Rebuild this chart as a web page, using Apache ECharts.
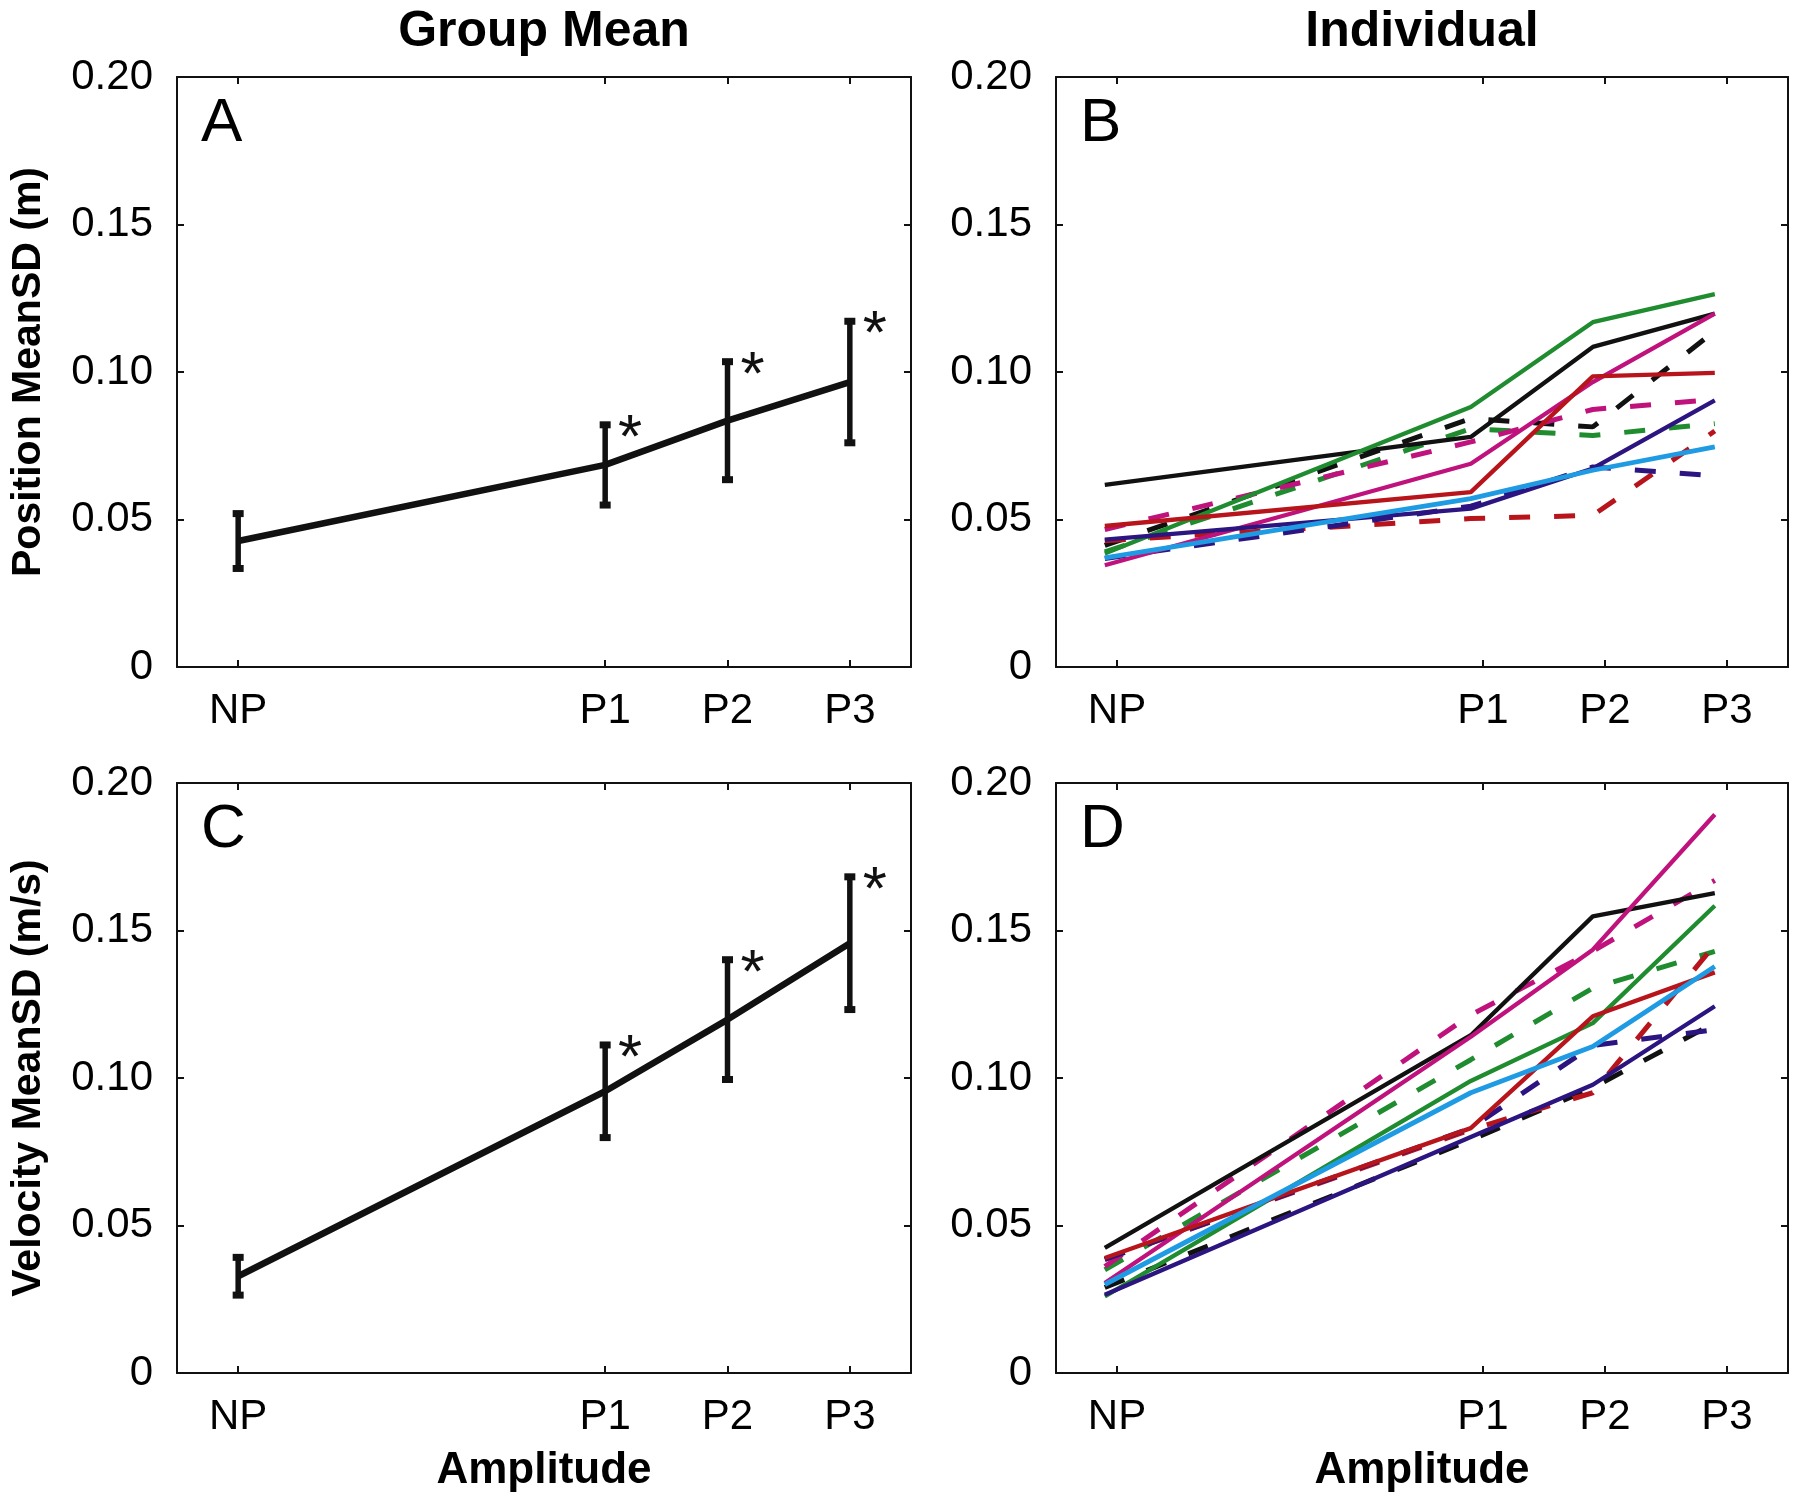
<!DOCTYPE html>
<html>
<head>
<meta charset="utf-8">
<script src="https://cdn.jsdelivr.net/npm/echarts@6/dist/echarts.min.js"></script>
<style>
  html, body { margin: 0; padding: 0; background: #fff; }
  #chart { width: 1800px; height: 1504px; }
</style>
</head>
<body>
<div id="chart"></div>
<script>
// amplitude conditions and where they sit on the x scale
const amplitudes = ['NP', 'P1', 'P2', 'P3']
const ampPos = [0, 3, 4, 5]
// individual traces are drawn slightly left of the ticks in the original
const indivPos = [-0.1, 2.9, 3.9, 4.9]

// group mean +/- SD
const posMean = [0.0427, 0.0685, 0.0835, 0.0966]
const posSD = [0.0093, 0.0136, 0.0200, 0.0206]
const velMean = [0.0328, 0.0955, 0.1198, 0.1457]
const velSD = [0.0064, 0.0157, 0.0203, 0.0225]
const sigFlag = [0, 1, 1, 1]

// individual subjects, position MeanSD (m)
const posBlack = [0.0617, 0.0780, 0.1085, 0.1198]
const posGreen = [0.0385, 0.0881, 0.1169, 0.1264]
const posMagenta = [0.0345, 0.0689, 0.0966, 0.1198]
const posRed = [0.0478, 0.0593, 0.0985, 0.0997]
const posNavy = [0.0432, 0.0537, 0.0673, 0.0904]
const posBlue = [0.0370, 0.0571, 0.0667, 0.0746]
const posBlackDash = [0.0412, 0.0842, 0.0814, 0.1139]
const posGreenDash = [0.0390, 0.0808, 0.0785, 0.0825]
const posMagentaDash = [0.0466, 0.0763, 0.0873, 0.0907]
const posRedDash = [0.0428, 0.0503, 0.0514, 0.0800]
const posNavyDash = [0.0368, 0.0545, 0.0678, 0.0648]

// individual subjects, velocity MeanSD (m/s)
const velBlack = [0.0424, 0.1145, 0.1548, 0.1627]
const velGreen = [0.0260, 0.0990, 0.1186, 0.1584]
const velMagenta = [0.0305, 0.1140, 0.1435, 0.1893]
const velRed = [0.0390, 0.0830, 0.1209, 0.1358]
const velNavy = [0.0265, 0.0800, 0.0977, 0.1243]
const velBlue = [0.0300, 0.0950, 0.1107, 0.1378]
const velBlackDash = [0.0290, 0.0790, 0.0967, 0.1187]
const velGreenDash = [0.0350, 0.1062, 0.1305, 0.1429]
const velMagentaDash = [0.0361, 0.1214, 0.1430, 0.1670]
const velRedDash = [0.0385, 0.0825, 0.0950, 0.1452]
const velNavyDash = [0.0385, 0.0830, 0.1110, 0.1164]

const colors = {
  black: '#111111',
  green: '#1f8c2f',
  magenta: '#c0127c',
  red: '#b8141c',
  navy: '#2c1580',
  blue: '#1e9be3'
}

const fontFamily = '"Liberation Sans", Arial, Helvetica, sans-serif'

const grids = [
  { left: 177, top: 77, width: 734, height: 590 },
  { left: 1056, top: 77, width: 732, height: 590 },
  { left: 177, top: 783, width: 734, height: 590 },
  { left: 1056, top: 783, width: 732, height: 590 }
]

const axisLineStyle = { color: '#111', width: 2 }
const xAxes = []
const yAxes = []
grids.forEach((g, i) => {
  const bottomRow = i >= 2
  xAxes.push({
    gridIndex: i,
    type: 'value',
    position: 'bottom',
    min: -0.5,
    max: 5.5,
    axisLine: { onZero: false, lineStyle: axisLineStyle },
    axisTick: { inside: true, length: 7, customValues: ampPos, lineStyle: axisLineStyle },
    axisLabel: {
      customValues: ampPos,
      formatter: v => amplitudes[ampPos.indexOf(v)],
      fontSize: 42,
      color: '#000',
      fontFamily,
      margin: 23
    },
    splitLine: { show: false },
    name: bottomRow ? 'Amplitude' : '',
    nameLocation: 'middle',
    nameGap: 76,
    nameTextStyle: { fontSize: 44, fontWeight: 'bold', color: '#000', fontFamily }
  })
  xAxes.push({
    gridIndex: i,
    type: 'value',
    position: 'top',
    min: -0.5,
    max: 5.5,
    axisLine: { onZero: false, lineStyle: axisLineStyle },
    axisTick: { inside: true, length: 7, customValues: ampPos, lineStyle: axisLineStyle },
    axisLabel: { show: false },
    splitLine: { show: false }
  })
  yAxes.push({
    gridIndex: i,
    type: 'value',
    position: 'left',
    min: 0,
    max: 0.2,
    interval: 0.05,
    axisLine: { show: true, onZero: false, lineStyle: axisLineStyle },
    axisTick: { show: true, inside: true, length: 7, lineStyle: axisLineStyle },
    axisLabel: {
      formatter: v => (v === 0 ? '0' : v.toFixed(2)),
      fontSize: 42,
      color: '#000',
      fontFamily,
      margin: 24
    },
    splitLine: { show: false },
    name: i === 0 ? 'Position MeanSD (m)' : (i === 2 ? 'Velocity MeanSD (m/s)' : ''),
    nameLocation: 'middle',
    nameGap: 128,
    nameTextStyle: { fontSize: 41, fontWeight: 'bold', color: '#000', fontFamily }
  })
  yAxes.push({
    gridIndex: i,
    type: 'value',
    position: 'right',
    min: 0,
    max: 0.2,
    interval: 0.05,
    axisLine: { show: true, onZero: false, lineStyle: axisLineStyle },
    axisTick: { show: true, inside: true, length: 7, lineStyle: axisLineStyle },
    axisLabel: { show: false },
    splitLine: { show: false }
  })
})

function renderErrorBar (params, api) {
  const x = api.value(0)
  const mean = api.value(1)
  const sd = api.value(2)
  const hi = api.coord([x, mean + sd])
  const lo = api.coord([x, mean - sd])
  const capW = 11
  const capH = 7
  const children = [
    { type: 'line', shape: { x1: hi[0], y1: hi[1], x2: lo[0], y2: lo[1] }, style: { stroke: '#111', lineWidth: 5.5 } },
    { type: 'rect', shape: { x: hi[0] - capW / 2, y: hi[1] - capH / 2, width: capW, height: capH }, style: { fill: '#111' } },
    { type: 'rect', shape: { x: lo[0] - capW / 2, y: lo[1] - capH / 2, width: capW, height: capH }, style: { fill: '#111' } }
  ]
  if (api.value(3)) {
    children.push({
      type: 'text',
      x: hi[0] + 25,
      y: hi[1] + 15,
      style: { text: '*', fontSize: 62, fontFamily, fill: '#111', align: 'center', verticalAlign: 'middle' }
    })
  }
  return { type: 'group', children }
}

function meanSeries (gridIdx, mean, sd) {
  return [
    {
      type: 'line',
      xAxisIndex: gridIdx * 2,
      yAxisIndex: gridIdx * 2,
      data: ampPos.map((x, k) => [x, mean[k]]),
      symbol: 'none',
      lineStyle: { color: '#111', width: 6.5 },
      z: 3
    },
    {
      type: 'custom',
      xAxisIndex: gridIdx * 2,
      yAxisIndex: gridIdx * 2,
      renderItem: renderErrorBar,
      data: ampPos.map((x, k) => [x, mean[k], sd[k], sigFlag[k]]),
      clip: false,
      z: 4
    }
  ]
}

function indivSeries (gridIdx, values, color, dashed) {
  return {
    type: 'line',
    xAxisIndex: gridIdx * 2,
    yAxisIndex: gridIdx * 2,
    data: indivPos.map((x, k) => [x, values[k]]),
    symbol: 'none',
    lineStyle: {
      color,
      width: dashed ? 5 : (color === colors.blue ? 4.8 : 4.3),
      type: dashed ? [21, 24] : 'solid'
    }
  }
}

const series = [
  ...meanSeries(0, posMean, posSD),
  ...meanSeries(2, velMean, velSD),
  indivSeries(1, posBlackDash, colors.black, true),
  indivSeries(1, posGreenDash, colors.green, true),
  indivSeries(1, posMagentaDash, colors.magenta, true),
  indivSeries(1, posRedDash, colors.red, true),
  indivSeries(1, posNavyDash, colors.navy, true),
  indivSeries(1, posBlack, colors.black, false),
  indivSeries(1, posGreen, colors.green, false),
  indivSeries(1, posMagenta, colors.magenta, false),
  indivSeries(1, posRed, colors.red, false),
  indivSeries(1, posNavy, colors.navy, false),
  indivSeries(1, posBlue, colors.blue, false),
  indivSeries(3, velBlackDash, colors.black, true),
  indivSeries(3, velGreenDash, colors.green, true),
  indivSeries(3, velMagentaDash, colors.magenta, true),
  indivSeries(3, velRedDash, colors.red, true),
  indivSeries(3, velNavyDash, colors.navy, true),
  indivSeries(3, velBlack, colors.black, false),
  indivSeries(3, velGreen, colors.green, false),
  indivSeries(3, velMagenta, colors.magenta, false),
  indivSeries(3, velRed, colors.red, false),
  indivSeries(3, velNavy, colors.navy, false),
  indivSeries(3, velBlue, colors.blue, false)
]

const panelLetters = ['A', 'B', 'C', 'D']
const graphic = [
  {
    type: 'text',
    x: grids[0].left + grids[0].width / 2,
    y: 32,
    style: { text: 'Group Mean', fontSize: 50, fontWeight: 'bold', fontFamily, fill: '#000', align: 'center', verticalAlign: 'middle' }
  },
  {
    type: 'text',
    x: grids[1].left + grids[1].width / 2,
    y: 32,
    style: { text: 'Individual', fontSize: 50, fontWeight: 'bold', fontFamily, fill: '#000', align: 'center', verticalAlign: 'middle' }
  }
]
panelLetters.forEach((t, i) => {
  graphic.push({
    type: 'text',
    x: grids[i].left + 24,
    y: grids[i].top + 16,
    style: { text: t, fontSize: 62, fontFamily, fill: '#000', align: 'left', verticalAlign: 'top' }
  })
})

const chart = echarts.init(document.getElementById('chart'))
chart.setOption({
  animation: false,
  backgroundColor: '#fff',
  grid: grids,
  xAxis: xAxes,
  yAxis: yAxes,
  graphic,
  series
})
</script>
</body>
</html>
